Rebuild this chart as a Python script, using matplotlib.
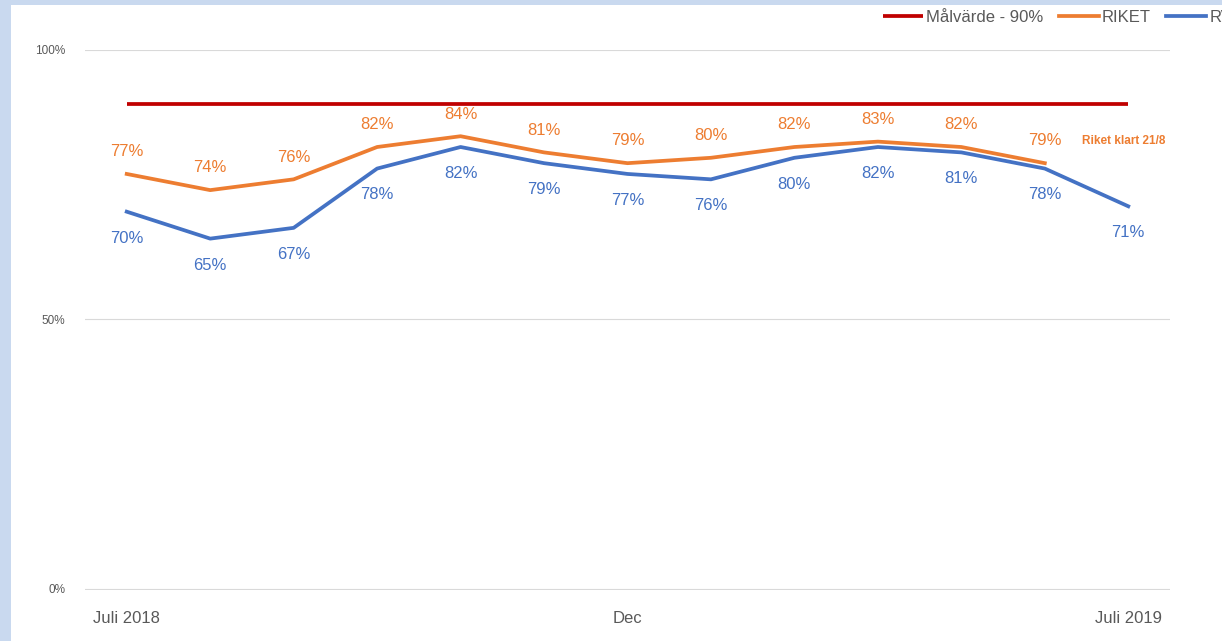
import matplotlib
matplotlib.use("Agg")
import matplotlib.pyplot as plt
from matplotlib.patches import Rectangle

months = list(range(13))
tick_pos = [0, 6, 12]
tick_labels = ["Juli 2018", "Dec", "Juli 2019"]
target = [90] * 13
riket = [77, 74, 76, 82, 84, 81, 79, 80, 82, 83, 82, 79]
rv = [70, 65, 67, 78, 82, 79, 77, 76, 80, 82, 81, 78, 71]

RED = "#C00000"
ORANGE = "#ED7D31"
BLUE = "#4472C4"
GREY = "#595959"

plt.rcParams["font.family"] = ["Liberation Sans", "DejaVu Sans"]

W, H = 1222, 641
fig = plt.figure(figsize=(W / 100, H / 100), dpi=100)
fig.patch.set_facecolor("#c9d9ef")
fig.patches.append(Rectangle((11 / W, 0), 1, 1 - 5 / H, transform=fig.transFigure,
                             facecolor="white", edgecolor="none", zorder=-1))

ax = fig.add_axes([85 / W, 51 / H, (1170 - 85) / W, (590 - 50) / H])
ax.set_zorder(2)
ax.set_facecolor("none")

ax.plot(months, target, color=RED, lw=2.7, label="Målvärde - 90%", solid_capstyle="butt")
ax.plot(months[:len(riket)], riket, color=ORANGE, lw=2.7, label="RIKET")
ax.plot(months, rv, color=BLUE, lw=2.7, label="RV")

for x, v in zip(months, riket):
    ax.annotate(f"{v}%", (x, v), xytext=(0, 16), textcoords="offset points",
                ha="center", va="center", color=ORANGE, fontsize=12)
for x, v in zip(months, rv):
    ax.annotate(f"{v}%", (x, v), xytext=(0, -19), textcoords="offset points",
                ha="center", va="center", color=BLUE, fontsize=12)

ax.annotate("Riket klart 21/8", (len(riket) - 1, riket[-1]), xytext=(57, 16),
            textcoords="offset points", ha="center", va="center",
            color=ORANGE, fontsize=8.5, fontweight="bold")

ax.set_xlim(-0.5, 12.5)
ax.set_ylim(-0.2, 100)
ax.set_yticks([0, 50, 100])
ax.set_yticklabels(["0%", "50%", "100%"])
ax.set_xticks(tick_pos)
ax.set_xticklabels(tick_labels)
ax.tick_params(axis="y", length=0, pad=14, labelsize=8.5, labelcolor=GREY)
ax.tick_params(axis="x", length=0, pad=15, labelsize=12, labelcolor=GREY)
ax.grid(axis="y", color="#d9d9d9", lw=0.8)
ax.set_axisbelow(True)
for s in ax.spines.values():
    s.set_visible(False)

leg = fig.legend(loc="center left", bbox_to_anchor=(868 / W, 1 - 17 / H), ncol=3,
                 frameon=False, fontsize=12, handlelength=2.4, handletextpad=0.2,
                 columnspacing=0.9, labelcolor=GREY)
leg.set_zorder(3)

fig.savefig("out.png", dpi=100, facecolor=fig.get_facecolor())
